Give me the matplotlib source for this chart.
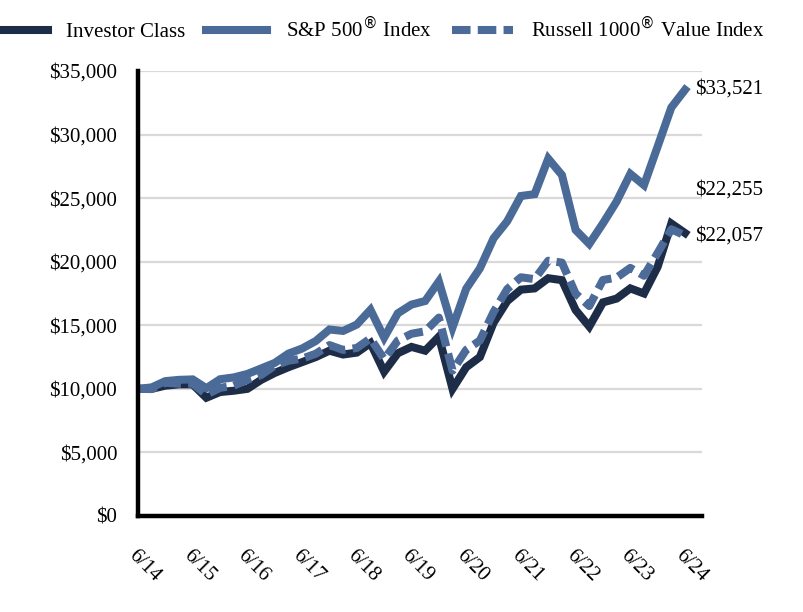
import matplotlib.pyplot as plt

plt.rcParams['font.family'] = ['Liberation Serif', 'DejaVu Serif']

# quarterly values, 6/14 .. 6/24 (growth of $10,000)
year_labels = ['6/14', '6/15', '6/16', '6/17', '6/18', '6/19',
               '6/20', '6/21', '6/22', '6/23', '6/24']

investor = [10000, 10000, 10250, 10350, 10350, 9300, 9750, 9850, 10000, 10700,
            11250, 11700, 12100, 12500, 13000, 12700, 12850, 13600, 11350, 12800,
            13300, 13000, 14100, 10000, 11700, 12500, 15200, 16900, 17800, 17900,
            18700, 18550, 16200, 14900, 16800, 17100, 17900, 17500, 19600, 23000,
            22255]

sp500 = [10000, 10113, 10607, 10708, 10742, 10051, 10754, 10899, 11171, 11601,
         12040, 12770, 13171, 13761, 14668, 14556, 15055, 16216, 14027, 15941,
         16626, 16909, 18443, 14828, 17875, 19470, 21836, 23184, 25167, 25313,
         28106, 26815, 22497, 21399, 23014, 24739, 26905, 26024, 29063, 32131,
         33521]

russell = [10000, 9981, 10478, 10403, 10414, 9540, 10078, 10243, 10712, 11085,
           11826, 12212, 12376, 12761, 13441, 13061, 13215, 13968, 12331, 13802,
           14332, 14527, 15604, 11433, 13067, 13797, 16039, 17845, 18775, 18629,
           20076, 19927, 17494, 16511, 18561, 18749, 19512, 18895, 20690, 22550,
           22057]

c_inv = '#1d2c47'
c_sp = '#4a6a97'
c_ru = '#4d6b98'

fig = plt.figure(figsize=(8.04, 6.12), dpi=100)
ax = fig.add_axes([0.1716, 0.1569, 0.7015, 0.7271])

x = list(range(len(investor)))
ax.plot(x, investor, color=c_inv, lw=5.8, solid_joinstyle='miter', label='Investor Class')
ax.plot(x, sp500, color=c_sp, lw=5.8, solid_joinstyle='miter', label='S&P 500$^{\\circledR}$ Index')
ax.plot(x, russell, color=c_ru, lw=5.8, dashes=(2.3, 0.9), dash_capstyle='butt',
        label='Russell 1000$^{\\circledR}$ Value Index')

ax.set_xlim(0, 41.24)
ax.set_ylim(0, 35000)
ax.set_yticks(range(0, 35001, 5000))
ax.set_yticklabels([f'${v:,}' for v in range(0, 35001, 5000)])
ax.set_xticks(range(0, 41, 4))
ax.set_xticklabels(year_labels, rotation=-45, ha='left', va='top', rotation_mode='anchor')
ax.tick_params(length=0, labelsize=15)
ax.tick_params(axis='y', pad=15)
ax.tick_params(axis='x', pad=22)

ax.grid(axis='y', color='#d9d9d9', lw=1.6)
ax.set_axisbelow(True)
for s in ['top', 'right']:
    ax.spines[s].set_visible(False)
for s in ['left', 'bottom']:
    ax.spines[s].set_linewidth(3.2)
    ax.spines[s].set_color('black')

# end labels
ax.text(40.75, 33600, f'${sp500[-1]:,}', fontsize=15, va='center', ha='left', clip_on=False)
ax.text(40.75, 25650, f'${investor[-1]:,}', fontsize=15, va='center', ha='left', clip_on=False)
ax.text(40.75, 22000, f'${russell[-1]:,}', fontsize=15, va='center', ha='left', clip_on=False)

fig.legend(loc='center', bbox_to_anchor=(376 / 804, 1 - 29 / 612), ncol=3, frameon=False,
           fontsize=15, handlelength=2.9, handletextpad=0.9, columnspacing=1.0)

fig.savefig('out.png', dpi=100)
